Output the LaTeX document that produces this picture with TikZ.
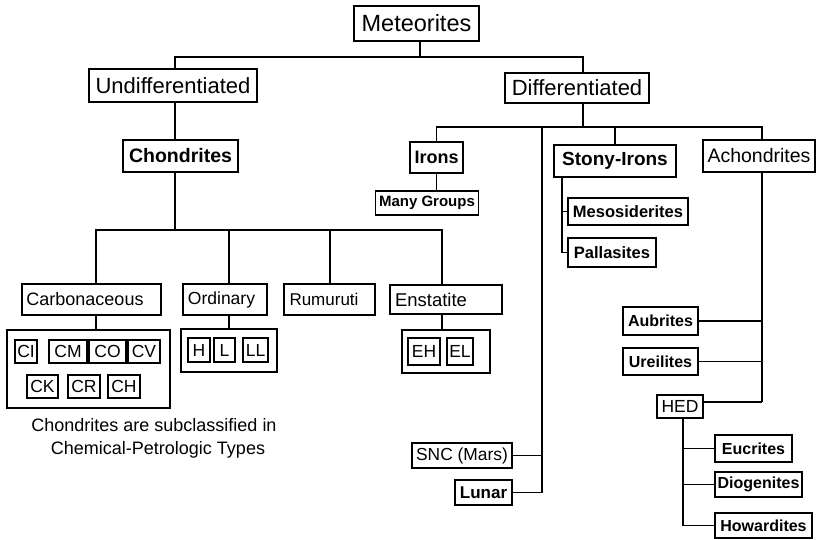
\documentclass[tikz,border=0pt]{standalone}
\usepackage{fontspec}
\setmainfont{Liberation Sans}
\newcommand{\fs}[1]{\fontsize{#1}{#1}\selectfont}
\tikzset{
  box/.style={draw, line width=1.8pt, inner sep=0pt, fill=white},
  heavy/.style={box, line width=2.4pt},
  grp/.style={draw, line width=1.3pt, inner sep=0pt},
  code/.style={draw, line width=1.9pt, inner sep=0pt, font=\fs{17.5}},
  wire/.style={line width=1.2pt},
  sz/.style 2 args={minimum width=#1pt, minimum height=#2pt},
}
\begin{document}
\begin{tikzpicture}[x=1pt, y=-1pt]
\useasboundingbox (0,0) rectangle (816,539);

% ---- top levels
\node[box, sz={125}{35}, font=\fs{23.5}] (met) at (416.5,23.5) {Meteorites};
\node[box, sz={168}{33}, font=\fs{22}] (und) at (173,85.5) {Undifferentiated};
\node[box, sz={144}{30}, font=\fs{22}] (dif) at (577,88) {Differentiated};

% ---- undifferentiated branch
\node[heavy, sz={115}{32}, font=\bfseries\fs{19.5}] (chon) at (180.5,156) {Chondrites};
\node[box, sz={139}{31}, font=\fs{18}] (carb) at (91.5,299.5) {Carbonaceous\kern13pt};
\node[box, sz={84}{31}, font=\fs{17.5}] (ord) at (225,299.5) {Ordinary\kern7pt};
\node[heavy, sz={91}{31}, font=\fs{17}] (rum) at (329.5,299.5) {Rumuruti\kern11pt};
\node[box, sz={112}{29}, font=\fs{18.5}] (enst) at (446,299.5) {Enstatite\kern30pt};

% chondrite groups
\node[grp, sz={163}{78}] (cgrp) at (88.5,369) {};
\node[code, sz={22}{23}] (ci) at (26,351.5) {CI};
\node[code, sz={38}{23}] (cm) at (68,351.5) {CM};
\node[code, sz={37}{23}] (co) at (107.5,351.5) {CO};
\node[code, sz={32}{23}] (cv) at (144,351.5) {CV};
\node[code, sz={31}{23}] (ck) at (42.5,386.5) {CK};
\node[code, sz={32}{23}] (cr) at (84,386.5) {CR};
\node[code, sz={32}{23}] (ch) at (124,386.5) {CH};

\node[grp, sz={96}{43}] (ogrp) at (229,350.5) {};
\node[code, sz={22}{24}] (h) at (199,350) {H};
\node[code, sz={21}{24}] (l) at (224.5,350) {L};
\node[code, sz={25}{24}] (ll) at (255.5,350) {LL};

\node[grp, sz={88}{43}] (egrp) at (446,351.5) {};
\node[code, sz={32}{27}] (eh) at (424,351.5) {EH};
\node[code, sz={26}{27}] (el) at (460,351.5) {EL};

\node[align=center, font=\fs{18}, inner sep=0pt] (note) at (154,438.5)
  {Chondrites are subclassified in\\[5pt]\kern8pt Chemical-Petrologic Types};

% ---- differentiated branch
\node[heavy, sz={53}{31}, font=\bfseries\fs{18}] (irons) at (436.5,157.5) {Irons};
\node[box, sz={103}{24}, font=\bfseries\fs{15}] (many) at (427,203) {Many Groups};
\node[heavy, sz={122}{32}, font=\bfseries\fs{19}] (stony) at (615,161) {Stony-Irons};
\node[box, sz={112}{32}, font=\fs{19.5}] (ach) at (759,156) {Achondrites};

\node[heavy, sz={120}{27}, font=\bfseries\fs{16.5}] (meso) at (628,211.5) {Mesosiderites};
\node[box, sz={88}{29}, font=\bfseries\fs{16.5}] (pall) at (612,252.5) {Pallasites};

\node[box, sz={75}{28}, font=\bfseries\fs{16}] (aub) at (660.5,321) {Aubrites};
\node[box, sz={75}{27}, font=\bfseries\fs{16}] (ure) at (660.5,361.5) {Ureilites};
\node[box, sz={46}{23}, font=\fs{17.5}] (hed) at (680,406.5) {HED};
\node[box, sz={77}{27}, font=\bfseries\fs{16}] (euc) at (753.5,448.5) {Eucrites};
\node[box, sz={87}{25}, font=\bfseries\fs{16}] (dio) at (758.5,484.5) {Diogenites};
\node[box, sz={97}{25}, font=\bfseries\fs{16}] (how) at (763.5,525.5) {Howardites};

\node[box, sz={100}{25}, font=\fs{17.4}] (snc) at (462,455.5) {SNC (Mars)};
\node[box, sz={57}{25}, font=\bfseries\fs{17}] (lunar) at (483.5,492.5) {Lunar};

% ---- bus coordinates
\coordinate (b0) at (420,57);     % below Meteorites
\coordinate (xu) at (175,0);      % Undifferentiated column
\coordinate (xd) at (583,0);      % Differentiated column
\coordinate (b1) at (175,230);    % chondrite bus
\coordinate (b2) at (583,127);    % differentiated bus
\coordinate (xc) at (96,0);       % Carbonaceous column
\coordinate (xo) at (229,0);      % Ordinary column
\coordinate (xr) at (330,0);      % Rumuruti column
\coordinate (xe) at (442,0);      % Enstatite column
\coordinate (xs) at (542,0);      % SNC / Lunar trunk
\coordinate (xst) at (562,0);     % stony-iron trunk
\coordinate (xa) at (762,0);      % achondrite trunk
\coordinate (xh) at (683,0);      % HED trunk
\coordinate (aend) at (762,402);

% ---- connectors
\draw[wire] (met.south -| b0) -- (b0);
\draw[wire] (und.north -| xu) |- (b0) -| (dif.north -| xd);
\draw[wire] (und.south -| xu) -- (chon.north -| xu);
\draw[wire] (chon.south -| xu) -- (b1);
\draw[wire] (carb.north -| xc) |- (b1) -| (enst.north -| xe);
\draw[wire] (ord.north -| xo) -- (b1 -| xo);
\draw[wire] (rum.north -| xr) -- (b1 -| xr);
\draw[wire] (carb.south -| xc) -- (cgrp.north -| xc);
\draw[wire] (ord.south -| xo) -- (ogrp.north -| xo);
\draw[wire] (enst.south -| xe) -- (egrp.north -| xe);

\draw[wire] (dif.south -| xd) -- (b2);
\draw[wire] (irons.north) |- (b2) -| (ach.north -| xa);
\draw[wire] (stony.north) -- (stony.north |- b2);
\draw[wire] (irons.south) -- (many.north -| irons.south);
\draw[wire] (b2 -| xs) |- (lunar.east);
\draw[wire] (snc.east) -- (snc.east -| xs);

\draw[wire] (stony.south -| xst) |- (pall.west);
\draw[wire] (meso.west -| xst) -- (meso.west);

\draw[wire] (ach.south -| xa) -- (aend);
\draw[wire] (hed.east |- aend) -- (aend);
\draw[wire] (aub.east) -- (aub.east -| xa);
\draw[wire] (ure.east) -- (ure.east -| xa);

\draw[wire] (hed.south -| xh) |- (how.west);
\draw[wire] (euc.west -| xh) -- (euc.west);
\draw[wire] (dio.west -| xh) -- (dio.west);
\end{tikzpicture}
\end{document}
